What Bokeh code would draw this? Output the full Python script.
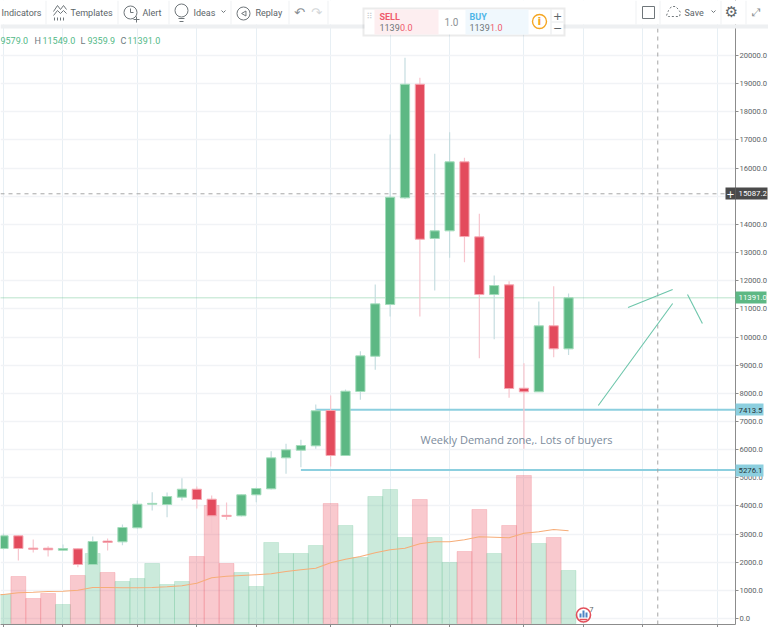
from bokeh.plotting import figure
from bokeh.models import Range1d, FixedTicker, NumeralTickFormatter, Label
from bokeh.embed import file_html
from bokeh.resources import INLINE

# ---- data -------------------------------------------------
opens  = [2487,2937,2500,2497,2426,2475,1918,2750,2724,3222,4060,4049,4309,4593,4238,3665,3648,4394,4607,5708,5978,6134,7388,5790,8063,9317,11153,14943,18979,13500,13771,16222,13558,11509,11853,8180,8052,10397,9579]
closes = [2937,2487,2460,2440,2486,1918,2735,2700,3232,4060,4090,4333,4593,4227,3648,3625,4394,4618,5708,5992,6145,7378,5790,8074,9331,11178,14965,18979,13473,13771,16222,13569,11509,11828,8170,8052,10397,9580,11391]
highs  = [3020,2950,2806,2568,2628,2486,2913,2842,3339,4191,4486,4475,4983,4689,4369,4120,4404,4653,5943,6205,6347,7600,7921,8134,9495,11864,17192,19916,19206,16506,17274,16364,14375,12183,11981,9068,11260,11804,11549]
lows   = [2450,2060,2344,2202,2415,1822,1900,2415,2604,3197,3836,3598,4191,3907,3019,3506,3623,4131,4582,5140,5374,6028,5400,5790,7768,8834,10727,14900,10727,11650,12812,12656,9246,9921,7840,6028,8052,9282,9360]
volumes = [29,47,25,30,19,48,70,51,42,45,60,39,42,67,118,60,51,37,81,70,70,78,120,98,66,127,134,86,124,86,61,72,114,70,98,148,80,86,53]
ma_values = [28.5,29,30.7,31.3,32,32.3,33.3,36,36,35.7,35.7,36,36.7,37.7,40.3,45.7,47.3,48,48.7,49.7,52,53.7,55.3,60.7,64.3,67,70.7,73.7,75.3,79.7,81.7,81.7,83.7,86.7,86.3,85.7,90.3,91.7,94,92.7]
month_ticks = [0,4,9,13,17,22,26,30,35,39,43,48]
price_ticks = list(range(0, 21000, 1000))
crosshair_price = 15087.2
crosshair_index = 44
last_price = 11391.0
zone_prices = [7413.5, 5276.1]
zone_starts = [21, 20]
trend_x = [[40, 45], [42, 45], [46, 47]]
trend_y = [[7566, 11189], [11047, 11686], [11508, 10478]]
note = "Weekly Demand zone,. Lots of buyers"

GREEN, RED = "#5db884", "#e34b5d"
FONT = "Roboto"

def X(px): return (px - 3) / 14.87
def Y(py): return (618 - py) / 0.02815

p = figure(width=768, height=627, frame_width=735, frame_height=624, output_backend="svg",
           toolbar_location=None, x_range=Range1d(X(0), X(735)), y_range=Range1d(Y(624), Y(0)),
           min_border=0, x_axis_location="below", y_axis_location="right",
           background_fill_color="white", border_fill_color="white", outline_line_color=None)
p.extra_y_ranges = {"vol": Range1d(-1, 623)}

# axes
ya = p.yaxis[0]
ya.ticker = FixedTicker(ticks=price_ticks)
ya.formatter = NumeralTickFormatter(format="0.0")
ya.major_tick_in = 0; ya.major_tick_out = 3; ya.minor_tick_line_color = None
ya.major_label_standoff = 1
ya.major_label_text_font = FONT
ya.major_label_text_font_size = "7.6px"
ya.major_label_text_color = "#5b6366"
ya.axis_line_color = "#8c8c8c"; ya.major_tick_line_color = "#8c8c8c"
xa = p.xaxis[0]
xa.ticker = FixedTicker(ticks=month_ticks)
xa.major_tick_in = 0; xa.major_tick_out = 3; xa.minor_tick_line_color = None
xa.major_label_text_color = None; xa.major_label_text_font_size = "1px"; xa.major_label_standoff = 0
xa.axis_line_color = "#8c8c8c"; xa.major_tick_line_color = "#8c8c8c"

p.xgrid[0].ticker = FixedTicker(ticks=month_ticks)
p.ygrid[0].ticker = FixedTicker(ticks=price_ticks)
p.xgrid[0].grid_line_color = "#e7eff4"; p.xgrid[0].grid_line_width = 1
p.ygrid[0].grid_line_color = "#f1f3f6"; p.ygrid[0].grid_line_width = 1.3

idx = list(range(len(opens)))
up = [c >= o for o, c in zip(opens, closes)]

# volume
vcolors = ["#53b987" if u else "#eb4d5c" for u in up]
p.vbar(x=idx, top=volumes, bottom=0, width=1.0, y_range_name="vol", fill_color=vcolors, fill_alpha=0.3,
       line_color=vcolors, line_alpha=0.2, line_width=1)
p.line(list(range(-1, 39)), ma_values, y_range_name="vol", line_color="#f6ad78", line_width=1.1)

# levels and crosshair
for price, start in zip(zone_prices, zone_starts):
    p.line([start, X(735)], [price, price], line_color="#8ccfdf", line_width=2)
p.line([X(0), X(735)], [crosshair_price, crosshair_price], line_color="#a6a6a6", line_width=1, line_dash="4 4")
p.line([crosshair_index, crosshair_index], [Y(624), Y(0)], line_color="#a6a6a6", line_width=1, line_dash="4 4")
p.line([X(0), X(735)], [last_price, last_price], line_color="#74c596", line_width=1, line_dash="1 1")

# candles
wick = ["#c6dde0" if u else "#f7c5cd" for u in up]
p.segment(idx, lows, idx, highs, line_color=wick, line_width=1.2)
p.vbar(x=idx, top=[max(a, b) for a, b in zip(opens, closes)], bottom=[min(a, b) for a, b in zip(opens, closes)],
       width=0.62, fill_color=[GREEN if u else RED for u in up],
       line_color=["#a3dcbb" if u else "#f6a9b3" for u in up], line_width=1)

# drawings
for tx, ty in zip(trend_x, trend_y):
    p.line(tx, ty, line_color="#6cc5aa", line_width=1.1)

# ---- page furniture on a transparent sheet over the chart, measured in page pixels ----
q = figure(width=768, height=627, output_backend="svg", toolbar_location=None,
           x_range=Range1d(0, 768), y_range=Range1d(627, 0), min_border=0,
           background_fill_color=None, border_fill_color=None, outline_line_color=None)
q.axis.visible = False
q.grid.visible = False
q.styles = {"position": "absolute", "left": "0px", "top": "0px"}

def box(l, r, t, b, fill, line=None, alpha=1.0):
    q.quad(left=[l], right=[r], top=[t], bottom=[b], fill_color=fill, fill_alpha=alpha, line_color=line)

def lab(x, y, text, color="#5b6366", size=11, font=FONT, align="left", style="normal"):
    q.add_layout(Label(x=x, y=y, text=text, text_color=color, text_font_size=f"{size}px", text_font=font,
                       text_align=align, text_baseline="middle", text_font_style=style))

def icon(xs, ys, color="#6f767a", width=1.0, dash="solid"):
    q.line(xs, ys, line_color=color, line_width=width, line_dash=dash)

def ring(x, y, size, line="#6f767a", fill=None, lw=1.0):
    q.scatter([x], [y], size=size, marker="circle", fill_color=fill, line_color=line, line_width=lw)

# note
lab(420, 439, note, color="#7c8b9c", size=11, font="Open Sans")

# legend row
g = "#53b987"; h = "#6d7b80"
lab(0, 40, "9579.0", g, 9)
lab(34, 40, "H", h, 9); lab(42, 40, "11549.0", g, 9)
lab(80, 40, "L", h, 9); lab(87, 40, "9359.9", g, 9)
lab(120, 40, "C", h, 9); lab(127, 40, "11391.0", g, 9)

# toolbar
box(0, 768, 0, 24, "white")
box(0, 768, 24, 28, "#eef0f2")
for sx in [45, 117, 168, 230, 288, 327, 635, 659, 720, 745]:
    box(sx, sx + 1, 0, 24, "#f0f2f3")
for tx_, t in [(1, "Indicators"), (70, "Templates"), (142, "Alert"), (193, "Ideas"), (255, "Replay"), (684, "Save")]:
    lab(tx_, 12, t, "#5c6468", 9)
# templates icon
icon([53, 57, 60, 63, 66], [11, 5, 9, 5, 9])
icon([53, 57, 60, 63, 66], [15, 10, 13, 10, 13])
for sx in [54, 57, 60, 63]:
    icon([sx, sx], [17, 20])
# alert icon
ring(130, 12, 13)
icon([130, 130, 133], [8, 12, 12]); icon([133, 139], [19, 19]); icon([136, 136], [16, 22])
# ideas icon
ring(181, 10, 13)
icon([178, 184], [18, 18]); icon([179, 183], [21, 21])
icon([221, 223, 225], [10, 12, 10]); icon([711, 713, 715], [10, 12, 10])
# replay icon
ring(243, 13, 13)
q.scatter([244], [13], size=5, marker="triangle", angle=1.57, fill_color=None, line_color="#6f767a")
lab(299, 12, "↶", "#8a9094", 13, "DejaVu Sans", "center")
lab(316, 12, "↷", "#d4d7d9", 13, "DejaVu Sans", "center")
# layout square
box(642, 654, 6, 18, "white", "#6f767a")
# cloud
icon([666, 668, 671, 675, 678, 680, 679, 668, 666], [15, 10, 6, 6, 9, 12, 16, 16, 15], dash="2 2")
lab(731, 11, "⚙", "#5c6468", 15, "DejaVu Sans", "center")
lab(756, 12, "⤢", "#8a9094", 11, "DejaVu Sans", "center")

# order panel
box(362, 565, 7, 36, "#000000", alpha=0.08)
box(364, 563, 9, 34, "white")
box(374, 438, 9, 34, "#fdeef0")
box(465, 528, 9, 34, "#f0f8fd")
box(550, 551, 9, 34, "#e8eaec")
box(551, 563, 21, 22, "#e8eaec")
lab(369, 16, "⠿", "#c8cccf", 8, "DejaVu Sans", "center")
lab(379, 16, "SELL", "#ef5a6b", 9, style="bold")
lab(379, 27, "1139", "#6d7478", 9); lab(399.5, 27, "0.0", "#ef5a6b", 9)
lab(451, 21, "1.0", "#8c9296", 10, align="center")
lab(469, 16, "BUY", "#4fb6e8", 9, style="bold")
lab(469, 27, "1139", "#6d7478", 9); lab(489.5, 27, "1.0", "#ef5a6b", 9)
ring(539, 21, 14, "#f5a623", "white", 1.4)
lab(539, 21, "i", "#f5a623", 11, "DejaVu Sans", "center", style="bold")
lab(557, 15, "+", "#5c6468", 11, "DejaVu Sans", "center")
lab(557, 27, "−", "#5c6468", 11, "DejaVu Sans", "center")

# price badges
box(725, 735, 187, 199, "#4a4a4a")
lab(730, 193, "+", "white", 10, "DejaVu Sans", "center")
box(735, 767, 187, 199, "#4a4a4a")
box(735, 766, 291, 303, "#5db884")
box(735, 763, 403, 415, "#8ccfdf")
box(735, 763, 464, 476, "#8ccfdf")
lab(738, 193, f"{crosshair_price:.1f}", "white", 7.8)
lab(738, 297, f"{last_price:.1f}", "white", 7.8)
lab(738, 409.5, f"{zone_prices[0]:.1f}", "#26353a", 7.8)
lab(738, 470, f"{zone_prices[1]:.1f}", "#26353a", 7.8)

# corner logo
ring(583, 614.5, 14, "#e2505c", "white", 1.6)
icon([579, 587], [619, 619], "#e2505c", 1.5)
q.quad(left=[579, 582, 585], right=[581, 584, 587], top=[613, 610, 612], bottom=[617, 617, 617], fill_color="#4d84c4", line_color=None)
lab(589, 609, "7", "#555c60", 7)

open("out.html", "w").write(file_html([p, q], INLINE))
